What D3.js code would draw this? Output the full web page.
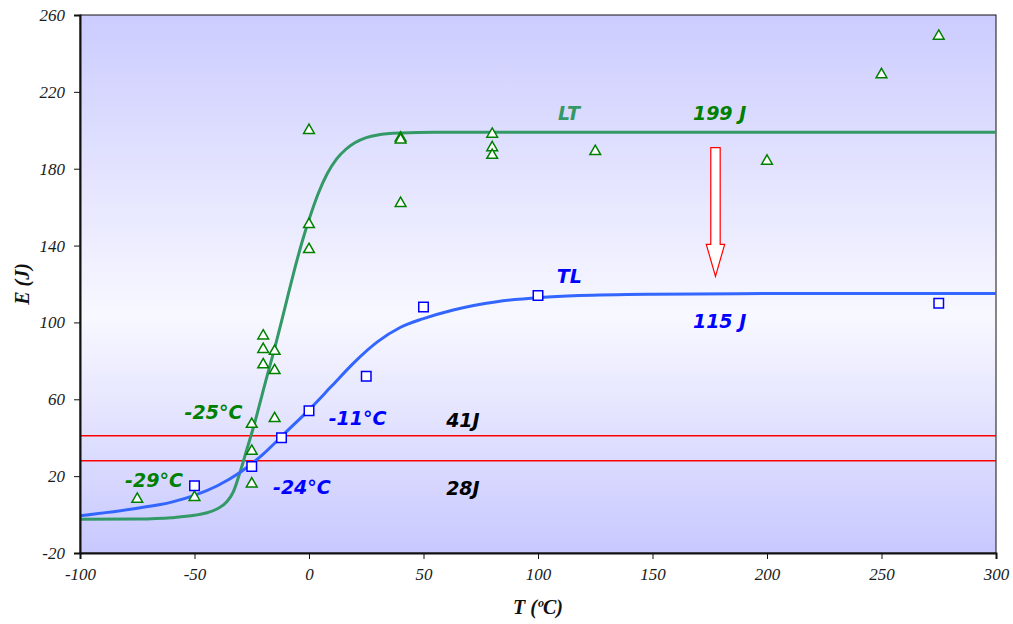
<!DOCTYPE html>
<html>
<head>
<meta charset="utf-8">
<script src="https://cdn.jsdelivr.net/npm/d3@7"></script>
<style>
  html, body { margin: 0; padding: 0; background: #ffffff; }
  svg { display: block; }
</style>
</head>
<body>
<script>
// Charpy impact energy vs test temperature, LT and TL orientations

// Measured points, LT orientation
const ltTemp   = [-75, -50, -25, -25, -25, -20, -20, -20, -15, -15, -15, 0, 0, 0, 40, 40, 40, 80, 80, 80, 125, 200, 250, 275];
const ltEnergy = [8, 9, 47, 33, 16, 93, 86, 78, 85, 75, 50, 200, 151, 138, 196, 195, 162, 198, 191, 187, 189, 184, 229, 249];

// Measured points, TL orientation
const tlTemp   = [-50, -25, -12, 0, 25, 50, 100, 275];
const tlEnergy = [15, 25, 40, 54, 72, 108, 114, 110];

// Transition curve, LT (upper shelf 199 J)
const ltCurveTemp   = [-100, -75, -60, -50, -45, -40, -36, -33, -30, -27, -24, -21, -18, -15, -12, -9, -6, -3, 0, 4, 8, 12, 16, 20, 25, 30, 40, 55, 300];
const ltCurveEnergy = [-2.5, -2.3, -1.6, -0.4, 0.8, 3, 6.5, 12, 22.5, 34.5, 46.5, 60, 73.5, 86.5, 100.5, 115, 129, 142, 153.5, 167, 177.5, 185, 190, 193.5, 196.2, 197.6, 198.6, 199, 199];

// Transition curve, TL (upper shelf 115 J)
const tlCurveTemp   = [-100, -75, -60, -50, -40, -30, -20, -10, 0, 10, 20, 30, 40, 50, 63, 82, 101, 118, 150, 200, 300];
const tlCurveEnergy = [-0.6, 3.3, 6.5, 10, 15, 22, 31.5, 43, 54.5, 67, 79.5, 90, 97.5, 102, 106.5, 110.8, 113, 114, 114.7, 115, 115];

// Reference energy levels
const refLevels = [41, 28];

// Axis ticks
const xTicks = [-100, -50, 0, 50, 100, 150, 200, 250, 300];
const yTicks = [-20, 20, 60, 100, 140, 180, 220, 260];

// Text annotations: [text, T, E, colour]
const notes = [
  ["-25°C", -41.7, 53.4, "#008000"],
  ["-29°C", -67.7, 18, "#008000"],
  ["-11°C", 21.2, 50.3, "#0000ff"],
  ["-24°C", -3.1, 14.4, "#0000ff"],
  ["41J", 67.2, 49.2, "#000000"],
  ["28J", 67.2, 13.8, "#000000"],
  ["LT", 113.5, 209, "#339966"],
  ["199 J", 179.3, 209, "#008000"],
  ["TL", 113.7, 124.2, "#0000ff"],
  ["115 J", 179.3, 100.8, "#0000ff"]
];

// Drop from LT to TL upper shelf: [T, E top, E tip]
const dropArrow = [177.5, 191, 124];

const W = 1013, H = 624;
const m = { left: 80, right: 17, top: 15, bottom: 71 };
const serif = "'Liberation Serif', 'Times New Roman', serif";
const comic = "'Comic Sans MS', 'DejaVu Sans', sans-serif";

const svg = d3.select("body").append("svg").attr("width", W).attr("height", H);

const x = d3.scaleLinear().domain([-100, 300]).range([m.left, W - m.right]);
const y = d3.scaleLinear().domain([-20, 260]).range([H - m.bottom, m.top]);

const defs = svg.append("defs");
const grad = defs.append("linearGradient").attr("id", "bg").attr("x1", 0).attr("y1", 0).attr("x2", 0).attr("y2", 1);
grad.append("stop").attr("offset", "0%").attr("stop-color", "#ccccff");
grad.append("stop").attr("offset", "56%").attr("stop-color", "#f8f8ff");
grad.append("stop").attr("offset", "100%").attr("stop-color", "#c8c8ff");

defs.append("clipPath").attr("id", "plot")
  .append("rect").attr("x", x(-100)).attr("y", y(260)).attr("width", x(300) - x(-100)).attr("height", y(-20) - y(260));

// plot background
svg.append("rect")
  .attr("x", x(-100)).attr("y", y(260))
  .attr("width", x(300) - x(-100)).attr("height", y(-20) - y(260))
  .attr("fill", "url(#bg)").attr("stroke", "#111").attr("stroke-width", 1);

const g = svg.append("g").attr("clip-path", "url(#plot)");

// reference levels
g.selectAll("line.ref").data(refLevels).join("line")
  .attr("class", "ref")
  .attr("x1", x(-100)).attr("x2", x(300))
  .attr("y1", d => y(d)).attr("y2", d => y(d))
  .attr("stroke", "#ff0000").attr("stroke-width", 1.5);

// transition curves
const line = d3.line().x(d => x(d[0])).y(d => y(d[1])).curve(d3.curveMonotoneX);
g.append("path")
  .attr("d", line(ltCurveTemp.map((t, i) => [t, ltCurveEnergy[i]])))
  .attr("fill", "none").attr("stroke", "#339966").attr("stroke-width", 3);
g.append("path")
  .attr("d", line(tlCurveTemp.map((t, i) => [t, tlCurveEnergy[i]])))
  .attr("fill", "none").attr("stroke", "#3366ff").attr("stroke-width", 3);

// measured points
const tri = d3.symbol().type(d3.symbolTriangle).size(50);
g.selectAll("path.lt").data(ltTemp.map((t, i) => [t, ltEnergy[i]])).join("path")
  .attr("class", "lt")
  .attr("d", tri)
  .attr("transform", d => `translate(${x(d[0])},${y(d[1])})`)
  .attr("fill", "#ffffff").attr("stroke", "#008000").attr("stroke-width", 1.5);

const sq = d3.symbol().type(d3.symbolSquare).size(90);
g.selectAll("path.tl").data(tlTemp.map((t, i) => [t, tlEnergy[i]])).join("path")
  .attr("class", "tl")
  .attr("d", sq)
  .attr("transform", d => `translate(${x(d[0])},${y(d[1])})`)
  .attr("fill", "#ffffff").attr("stroke", "#0000ff").attr("stroke-width", 1.5);

// block arrow
{
  const [t, eTop, eTip] = dropArrow;
  const cx = x(t), yTop = y(eTop), yTip = y(eTip);
  const shaftHalf = 4.7, headHalf = 9.2, headLen = 32;
  const pts = [
    [cx - shaftHalf, yTop], [cx + shaftHalf, yTop], [cx + shaftHalf, yTip - headLen],
    [cx + headHalf, yTip - headLen], [cx, yTip], [cx - headHalf, yTip - headLen],
    [cx - shaftHalf, yTip - headLen]
  ];
  svg.append("path")
    .attr("d", "M" + pts.map(p => p.join(",")).join("L") + "Z")
    .attr("fill", "#ffffff").attr("stroke", "#ff0000").attr("stroke-width", 1.2);
}

// annotations
svg.selectAll("text.note").data(notes).join("text")
  .attr("class", "note")
  .attr("x", d => x(d[1])).attr("y", d => y(d[2]))
  .attr("text-anchor", "middle").attr("dominant-baseline", "central")
  .attr("font-family", comic).attr("font-weight", "bold").attr("font-style", "italic").attr("font-size", 19)
  .attr("fill", d => d[3])
  .text(d => d[0]);

// axes
const fmt = d => String(d);
const xAxis = svg.append("g").attr("transform", `translate(0,${y(-20)})`)
  .call(d3.axisBottom(x).tickValues(xTicks).tickFormat(fmt).tickSize(6).tickPadding(9));
const yAxis = svg.append("g").attr("transform", `translate(${x(-100)},0)`)
  .call(d3.axisLeft(y).tickValues(yTicks).tickFormat(fmt).tickSize(6).tickPadding(9));
[xAxis, yAxis].forEach(a => {
  a.attr("font-family", serif).attr("font-size", 17);
  a.select(".domain").attr("stroke", "#111").attr("stroke-width", 2);
  a.selectAll(".tick line").attr("stroke", "#111");
  a.selectAll(".tick text").attr("fill", "#1a1a1a").attr("font-style", "italic");
});

svg.append("text")
  .attr("x", (x(-100) + x(300)) / 2).attr("y", 614)
  .attr("text-anchor", "middle")
  .attr("font-family", serif).attr("font-weight", "bold").attr("font-style", "italic").attr("font-size", 20)
  .attr("fill", "#111").text("T (ºC)");
svg.append("text")
  .attr("transform", `translate(29,${(y(-20) + y(260)) / 2}) rotate(-90)`)
  .attr("text-anchor", "middle")
  .attr("font-family", serif).attr("font-weight", "bold").attr("font-style", "italic").attr("font-size", 20)
  .attr("fill", "#111").text("E (J)");
</script>
</body>
</html>
